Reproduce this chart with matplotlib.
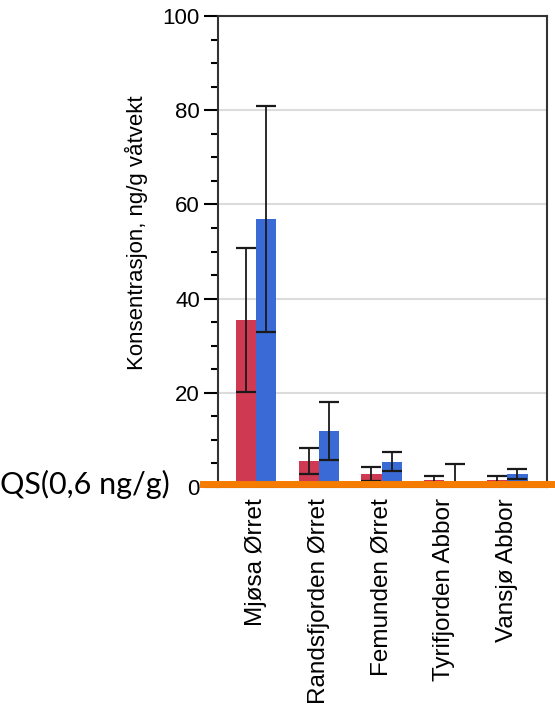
import numpy as np
import matplotlib.pyplot as plt

# Data
categories = ['Mjøsa Ørret', 'Randsfjorden Ørret', 'Femunden Ørret',
              'Tyrifjorden Abbor', 'Vansjø Abbor']
red_vals = [35.5, 5.5, 2.8, 1.5, 1.5]
red_err = [15.3, 2.8, 1.5, 0.8, 0.8]
blue_vals = [57.0, 11.9, 5.4, 0.8, 2.8]
blue_err = [24.0, 6.2, 2.1, 4.1, 1.0]
qs_level = 0.6

plt.rcParams['font.family'] = ['Liberation Sans', 'DejaVu Sans']

fig = plt.figure(figsize=(5.55, 7.06), dpi=100)
ax = fig.add_axes([0.3928, 0.3102, 0.5928, 0.6671])

x = np.arange(len(categories))
w = 0.32
err_kw = dict(ecolor='#1a1a1a', elinewidth=1.3, capsize=7, capthick=1.6)
ax.bar(x - w / 2, red_vals, w, yerr=red_err, color='#cf3a52', error_kw=err_kw, zorder=2)
ax.bar(x + w / 2, blue_vals, w, yerr=blue_err, color='#3a6ad6', error_kw=err_kw, zorder=2)

ax.set_xlim(-0.6, 4.63)
ax.set_ylim(0, 100)
ax.set_yticks([0, 20, 40, 60, 80, 100])
ax.set_yticks(np.arange(0, 101, 5), minor=True)
ax.yaxis.grid(True, color='#dcdcdc', linewidth=1.5, zorder=0)
ax.set_axisbelow(True)
ax.tick_params(axis='y', which='major', length=10, width=1.5, labelsize=16, pad=3)
ax.tick_params(axis='y', which='minor', length=5, width=1.5)
ax.set_xticks(x)
ax.set_xticklabels(categories, rotation=90, fontsize=17.5)
ax.tick_params(axis='x', length=0, pad=8)
for s in ax.spines.values():
    s.set_linewidth(1.5)
    s.set_color('#333333')
ax.set_ylabel('Konsentrasjon, ng/g våtvekt', fontsize=16)
ax.yaxis.set_label_coords(-0.213, 0.54)

# QS reference line and label
ax.axhline(qs_level, xmin=-0.046, xmax=1.03, color='#f57c00', linewidth=5, clip_on=False, zorder=5)
fig.text(0.0, 1 - 484 / 706, 'QS(0,6 ng/g)', family=['Lato', 'DejaVu Sans'],
         fontsize=22, va='center', ha='left')

fig.savefig('out.png', dpi=100)
